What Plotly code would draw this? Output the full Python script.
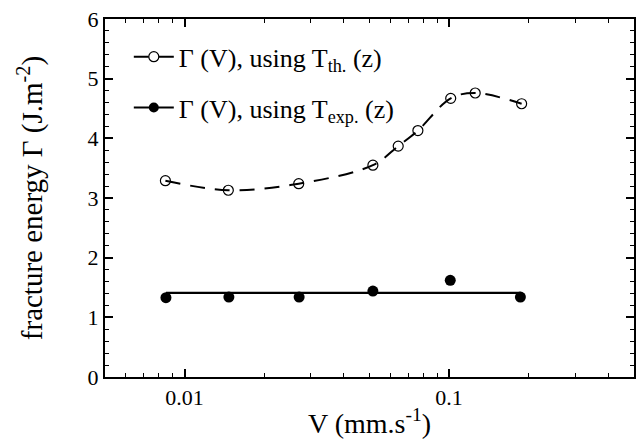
import plotly.graph_objects as go

# Data
v_th = [0.00846, 0.01463, 0.0270, 0.0515, 0.0642, 0.0762, 0.1014, 0.1255, 0.188]
gamma_th = [3.29, 3.13, 3.24, 3.55, 3.87, 4.13, 4.67, 4.76, 4.58]

v_exp = [0.0085, 0.0147, 0.0271, 0.0515, 0.101, 0.186]
gamma_exp = [1.33, 1.34, 1.34, 1.44, 1.62, 1.34]
gamma_exp_mean = 1.41

x_tickvals = [0.01, 0.1]
x_ticktext = ["0.01", "0.1"]
y_tickvals = [0, 1, 2, 3, 4, 5, 6]

legend_th = "Γ (V), using T<sub>th.</sub> (z)"
legend_exp = "Γ (V), using T<sub>exp.</sub> (z)"
x_title = "V (mm.s<sup>-1</sup>)"
y_title = "fracture energy Γ (J.m<sup>-2</sup>)"

FONT = "Liberation Serif, Times New Roman, serif"

minor_x = [m * 10.0 ** e for e in (-3, -2, -1) for m in range(2, 10)]
minor_x = [v for v in minor_x if 0.005 <= v <= 0.5]

fig = go.Figure()

fig.add_trace(go.Scatter(
    x=v_th, y=gamma_th, mode="lines+markers", name=legend_th,
    line=dict(color="black", width=2, dash="15px,10px", shape="spline", smoothing=1.0),
    marker=dict(symbol="circle-open", size=10, color="black", line=dict(width=1.2)),
    legendgroup="a",
))

fig.add_trace(go.Scatter(
    x=[v_exp[0], v_exp[-1]], y=[gamma_exp_mean, gamma_exp_mean], mode="lines",
    line=dict(color="black", width=2.2), showlegend=False, hoverinfo="skip",
))
fig.add_trace(go.Scatter(
    x=v_exp, y=gamma_exp, mode="markers", showlegend=False,
    marker=dict(symbol="circle", size=11, color="black"),
))
fig.add_trace(go.Scatter(
    x=[None], y=[None], mode="lines+markers", name=legend_exp,
    line=dict(color="black", width=2.2),
    marker=dict(symbol="circle", size=10, color="black"),
    legendgroup="b",
))

axis_common = dict(
    showline=True, linecolor="black", linewidth=2, mirror="ticks",
    ticks="inside", tickcolor="black", showgrid=False, zeroline=False,
    tickfont=dict(family=FONT, size=22, color="black"),
)

fig.update_xaxes(
    type="log", range=[-2.301, -0.301],
    tickmode="array", tickvals=x_tickvals, ticktext=x_ticktext,
    ticklen=8, tickwidth=1.5,
    minor=dict(tickmode="array", tickvals=minor_x, ticks="inside", ticklen=4,
               tickcolor="black", tickwidth=1, showgrid=False),
    title=dict(text=x_title, font=dict(family=FONT, size=28, color="black"), standoff=4),
    **axis_common,
)
fig.update_yaxes(
    range=[0, 6], tickmode="array", tickvals=y_tickvals,
    ticklen=8, tickwidth=1.5,
    minor=dict(dtick=0.2, ticks="inside", ticklen=4, tickcolor="black",
               tickwidth=1, showgrid=False),
    title=dict(text=y_title, font=dict(family=FONT, size=29, color="black"), standoff=36),
    **axis_common,
)

fig.update_layout(
    width=638, height=440,
    margin=dict(l=105, r=2, t=19, b=63),
    paper_bgcolor="white", plot_bgcolor="white",
    showlegend=True,
    legend=dict(
        x=0.045, y=0.96, xanchor="left", yanchor="top",
        font=dict(family=FONT, size=26, color="black"),
        bgcolor="rgba(0,0,0,0)", itemwidth=40,
        traceorder="grouped", tracegroupgap=14,
    ),
)

fig.write_html("out.html", config={"displayModeBar": False},
               post_script="document.body.style.margin='0';")
